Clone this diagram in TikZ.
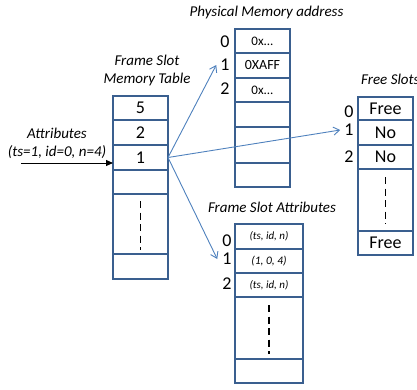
\documentclass[tikz,border=0pt]{standalone}
\usepackage{fontspec}
\setmainfont{Carlito}
\usetikzlibrary{arrows.meta}
\definecolor{bordercol}{HTML}{3A5F8F}
\definecolor{arrowcol}{HTML}{4F81BD}
\begin{document}
\begin{tikzpicture}[x=1pt,y=-1pt,
  cell/.style={draw=bordercol, line width=2.4pt, inner sep=0pt, outer sep=0pt, minimum width=55pt, font=\fontsize{18}{18}\selectfont},
  wcell/.style={cell, minimum width=68pt},
  idx/.style={inner sep=1pt, font=\fontsize{18}{18}\selectfont},
  ttl/.style={font=\itshape\fontsize{15}{18}\selectfont, align=center, inner sep=0pt},
  blue arrow/.style={draw=arrowcol, line width=0.9pt, -{Straight Barb[length=6pt,width=8pt]}},
  dashline/.style={draw=black, line width=1.5pt, dash pattern=on 7pt off 4.5pt}
]
\useasboundingbox (0,0) rectangle (417,389);

% Frame Slot Memory Table
\node[ttl] (mtitle) at (147,70) {Frame Slot\\Memory Table};
\node[cell, minimum height=24pt] (m1) at (140.5,108) {5};
\node[cell, minimum height=25pt] (m2) at (140.5,132.5) {2};
\node[cell, minimum height=25pt] (m3) at (140.5,157.5) {1};
\node[cell, minimum height=24pt] (m4) at (140.5,182) {};
\node[cell, minimum height=60pt] (m5) at (140.5,224) {};
\node[cell, minimum height=25pt] (m6) at (140.5,266.5) {};
\draw[dashline] ([yshift=-7pt]m5.north) -- ([yshift=4pt]m5.south);

% Attributes input
\node[ttl, align=center] (attrlbl) at (57,143) {Attributes\\(ts=1, id=0, n=4)};
\coordinate (attrstart) at (21,163);
\draw[line width=1pt, -{Triangle[length=7pt,width=6pt]}] (attrstart) -- (attrstart -| m3.west);

% Physical Memory address
\node[ttl] (ptitle) at (266.5,12) {Physical Memory address};
\node[cell, minimum height=24pt, font=\fontsize{13}{13}\selectfont] (p1) at (262.5,41) {0x...};
\node[cell, minimum height=25pt, font=\fontsize{14}{14}\selectfont] (p2) at (262.5,65.5) {0XAFF};
\node[cell, minimum height=24pt, font=\fontsize{13}{13}\selectfont] (p3) at (262.5,90) {0x...};
\node[cell, minimum height=25pt] (p4) at (262.5,114.5) {};
\node[cell, minimum height=36pt] (p5) at (262.5,145) {};
\node[cell, minimum height=24pt] (p6) at (262.5,175) {};
\node[idx] (pi0) at (225,42) {0};
\node[idx] (pi1) at (225,65) {1};
\node[idx] (pi2) at (225,89) {2};

% Free Slots
\node[ttl, anchor=west] (ftitle) at (361,79) {Free Slots};
\node[cell, minimum height=23pt] (f1) at (385.5,108.5) {Free};
\node[cell, minimum height=25pt] (f2) at (385.5,132.5) {No};
\node[cell, minimum height=24pt] (f3) at (385.5,157) {No};
\node[cell, minimum height=62pt] (f4) at (385.5,200) {};
\node[cell, minimum height=24pt] (f5) at (385.5,243) {Free};
\draw[dashline] ([yshift=-8pt]f4.north) -- ([yshift=7pt]f4.south);
\node[idx] (fi0) at (349,112) {0};
\node[idx] (fi1) at (349,130) {1};
\node[idx] (fi2) at (349,157) {2};

% Frame Slot Attributes
\node[ttl] (atitle) at (272,207) {Frame Slot Attributes};
\node[wcell, minimum height=25pt, font=\itshape\fontsize{11}{11}\selectfont] (a1) at (269,236.5) {(ts, id, n)};
\node[wcell, minimum height=24pt, font=\itshape\fontsize{11.5}{11.5}\selectfont] (a2) at (269,261) {(1, 0, 4)};
\node[wcell, minimum height=24pt, font=\itshape\fontsize{11}{11}\selectfont] (a3) at (269,285) {(ts, id, n)};
\node[wcell, minimum height=62pt] (a4) at (269,328) {};
\node[wcell, minimum height=24pt] (a5) at (269,371) {};
\draw[dashline] ([yshift=-8pt]a4.north) -- ([yshift=5pt]a4.south);
\node[idx] (ai0) at (227,241) {0};
\node[idx] (ai1) at (227,259) {1};
\node[idx] (ai2) at (227,284) {2};

% Blue pointers
\draw[blue arrow] (m3.east) -- ([xshift=-3pt]pi1.west);
\draw[blue arrow] (m3.east) -- ([xshift=-3pt]fi1.west);
\draw[blue arrow] (m3.east) -- ([xshift=-4pt]ai1.west);
\end{tikzpicture}
\end{document}
